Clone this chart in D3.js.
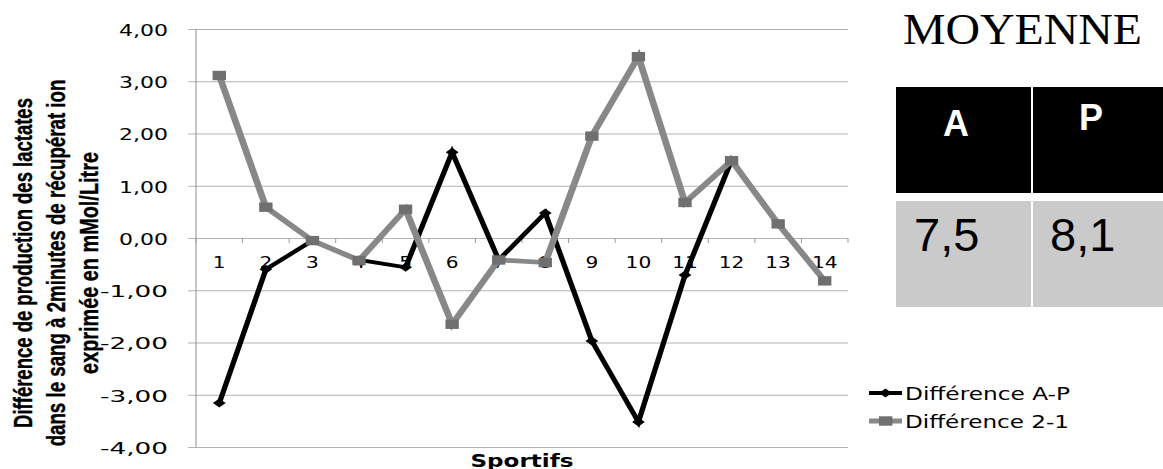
<!DOCTYPE html>
<html>
<head>
<meta charset="utf-8">
<script src="https://cdn.jsdelivr.net/npm/d3@7"></script>
<style>
  html, body { margin: 0; padding: 0; background: #fff; }
  svg { display: block; }
</style>
</head>
<body>
<svg id="chart" width="1163" height="469"></svg>
<script>
// Sportifs 1..14
const categories = ["1","2","3","4","5","6","7","8","9","10","11","12","13","14"];
// Différence A-P (mMol/Litre)
const diffAP = [-3.16, -0.60, -0.05, -0.42, -0.56, 1.64, -0.42, 0.48, -1.97, -3.52, -0.71, 1.49, 0.27, -0.82];
// Différence 2-1 (mMol/Litre)
const diff21 = [3.11, 0.59, -0.05, -0.43, 0.55, -1.65, -0.42, -0.47, 1.95, 3.47, 0.68, 1.48, 0.27, -0.82];
const yTicks = [-4, -3, -2, -1, 0, 1, 2, 3, 4];
const seriesNames = ["Différence A-P", "Différence 2-1"];
const tableHeaders = ["A", "P"];
const tableValues = ["7,5", "8,1"];
const titleLines = [
  "Différence de production des lactates",
  "dans le sang à 2minutes de récupérat ion",
  "exprimée en mMol/Litre"
];

(function () {
const svg = d3.select("#chart");
const SX = 1.42;                // horizontal stretch of the plot drawing
const pLeft = 196, pRight = 848, pTop = 29, pBottom = 447;

const fr = d3.formatLocale({decimal: ",", thousands: " ", grouping: [3], currency: ["", " €"], minus: "-"});
const fmt = fr.format(".2f");

const x = d3.scaleBand().domain(categories).range([pLeft / SX, pRight / SX]);
const y = d3.scaleLinear().domain([-4, 4]).range([pBottom, pTop]);
const cx = c => (x(c) + x.bandwidth() / 2);

// horizontal gridlines + y tick labels
const yAxis = d3.axisLeft(y).tickValues(yTicks).tickFormat(fmt)
  .tickSizeInner(-(pRight - 188)).tickSizeOuter(0).tickPadding(20);
const gy = svg.append("g").attr("transform", "translate(188,0)").call(yAxis);
gy.select(".domain").remove();
gy.selectAll(".tick line").attr("stroke", "#b3b3b3").attr("stroke-width", 1);
gy.selectAll(".tick text")
  .attr("font-family", "DejaVu Sans, Verdana, sans-serif")
  .attr("font-size", 15).attr("fill", "#000")
  .attr("dy", "0.42em")
  .attr("textLength", d => d < 0 ? 68 : 49)
  .attr("lengthAdjust", "spacingAndGlyphs");

// vertical axis line
svg.append("line").attr("x1", pLeft).attr("x2", pLeft).attr("y1", pTop).attr("y2", pBottom)
  .attr("stroke", "#8f8f8f").attr("stroke-width", 1);

// category ticks along the zero line
const bounds = d3.range(categories.length + 1).map(i => (x.range()[0] + i * x.step()) * SX);
svg.append("g").selectAll("line").data(bounds).join("line")
  .attr("x1", d => d).attr("x2", d => d)
  .attr("y1", y(0)).attr("y2", y(0) + 5)
  .attr("stroke", "#9a9a9a").attr("stroke-width", 1);

// category labels
svg.append("g").selectAll("text").data(categories).join("text")
  .attr("x", d => cx(d) * SX).attr("y", y(0) + 29.5)
  .attr("text-anchor", "middle")
  .attr("font-family", "DejaVu Sans, Verdana, sans-serif")
  .attr("font-size", 16.5).attr("fill", "#000")
  .attr("textLength", d => d.length * 12.8)
  .attr("lengthAdjust", "spacingAndGlyphs")
  .text(d => d);

// series, drawn in a horizontally stretched frame
const plot = svg.append("g").attr("transform", `scale(${SX},1)`);
const line = d3.line().x((d, i) => cx(categories[i])).y(d => y(d));

plot.append("path").datum(diffAP)
  .attr("d", line).attr("fill", "none")
  .attr("stroke", "#000").attr("stroke-width", 3.8).attr("stroke-linejoin", "miter");
plot.append("g").selectAll("path").data(diffAP).join("path")
  .attr("d", (d, i) => {
    const px = cx(categories[i]), py = y(d), r = 4.5;
    return `M${px},${py - r}L${px + r},${py}L${px},${py + r}L${px - r},${py}Z`;
  })
  .attr("fill", "#000");

plot.append("path").datum(diff21)
  .attr("d", line).attr("fill", "none")
  .attr("stroke", "#888888").attr("stroke-width", 4.8).attr("stroke-linejoin", "miter");
plot.append("g").selectAll("rect").data(diff21).join("rect")
  .attr("x", (d, i) => cx(categories[i]) - 4.7)
  .attr("y", d => y(d) - 4.7)
  .attr("width", 9.4).attr("height", 9.4)
  .attr("fill", "#6f6f6f");

// x axis title
svg.append("text")
  .attr("x", (pLeft + pRight) / 2).attr("y", 466.5)
  .attr("text-anchor", "middle")
  .attr("font-family", "DejaVu Sans, Verdana, sans-serif")
  .attr("font-weight", "bold").attr("font-size", 18).attr("fill", "#000")
  .attr("textLength", 103).attr("lengthAdjust", "spacingAndGlyphs")
  .text("Sportifs");

// y axis title (three lines, rotated, condensed to fit the axis height)
const titleLens = [330, 367, 222];
const titleBase = [32, 65, 98];
titleLines.forEach((t, i) => {
  const txt = svg.append("text")
    .attr("text-anchor", "middle")
    .attr("font-family", "Liberation Sans, Arial, sans-serif")
    .attr("font-weight", "bold").attr("font-size", 26.5).attr("fill", "#000")
    .attr("stroke", "#000").attr("stroke-width", 0.4)
    .text(t);
  const natural = txt.node().getComputedTextLength();
  const k = titleLens[i] / natural;
  txt.attr("transform", `translate(${titleBase[i]},263) rotate(-90) scale(${k},1)`);
});

// legend
const legend = svg.append("g");
const legY = [393, 421];
const legLens = [165, 164];
legend.append("line").attr("x1", 869).attr("x2", 902).attr("y1", legY[0]).attr("y2", legY[0])
  .attr("stroke", "#000").attr("stroke-width", 3.8);
legend.append("path")
  .attr("d", `M885.5,${legY[0] - 4.5}L892,${legY[0]}L885.5,${legY[0] + 4.5}L879,${legY[0]}Z`)
  .attr("fill", "#000");
legend.append("line").attr("x1", 869).attr("x2", 902).attr("y1", legY[1]).attr("y2", legY[1])
  .attr("stroke", "#888888").attr("stroke-width", 4.8);
legend.append("rect").attr("x", 879).attr("y", legY[1] - 4.7).attr("width", 13.4).attr("height", 9.4)
  .attr("fill", "#6f6f6f");
seriesNames.forEach((n, i) => {
  legend.append("text")
    .attr("x", 905).attr("y", legY[i] + 7)
    .attr("font-family", "DejaVu Sans, Verdana, sans-serif")
    .attr("font-size", 17).attr("fill", "#000")
    .attr("textLength", legLens[i]).attr("lengthAdjust", "spacingAndGlyphs")
    .text(n);
});

// MOYENNE table
const table = svg.append("g");
table.append("text")
  .attr("x", 903).attr("y", 44)
  .attr("font-family", "Liberation Serif, Times New Roman, serif")
  .attr("font-size", 44).attr("fill", "#000")
  .attr("textLength", 239).attr("lengthAdjust", "spacingAndGlyphs")
  .text("MOYENNE");

const cellX = [896, 1033];
const cellW = [135, 130];
cellX.forEach((cxx, i) => {
  table.append("rect").attr("x", cxx).attr("y", 87).attr("width", cellW[i]).attr("height", 106)
    .attr("fill", "#000");
  table.append("rect").attr("x", cxx).attr("y", 201).attr("width", cellW[i]).attr("height", 106)
    .attr("fill", "#cacaca");
});
const headX = [943, 1079];
const headY = [136, 130];
tableHeaders.forEach((h, i) => {
  table.append("text")
    .attr("x", headX[i]).attr("y", headY[i])
    .attr("font-family", "Liberation Sans, Arial, sans-serif")
    .attr("font-weight", "bold").attr("font-size", 36).attr("fill", "#fff")
    .text(h);
});
const valX = [914, 1050];
tableValues.forEach((v, i) => {
  table.append("text")
    .attr("x", valX[i]).attr("y", 251)
    .attr("font-family", "Liberation Sans, Arial, sans-serif")
    .attr("font-size", 47).attr("fill", "#000")
    .text(v);
});
})();
</script>
</body>
</html>
